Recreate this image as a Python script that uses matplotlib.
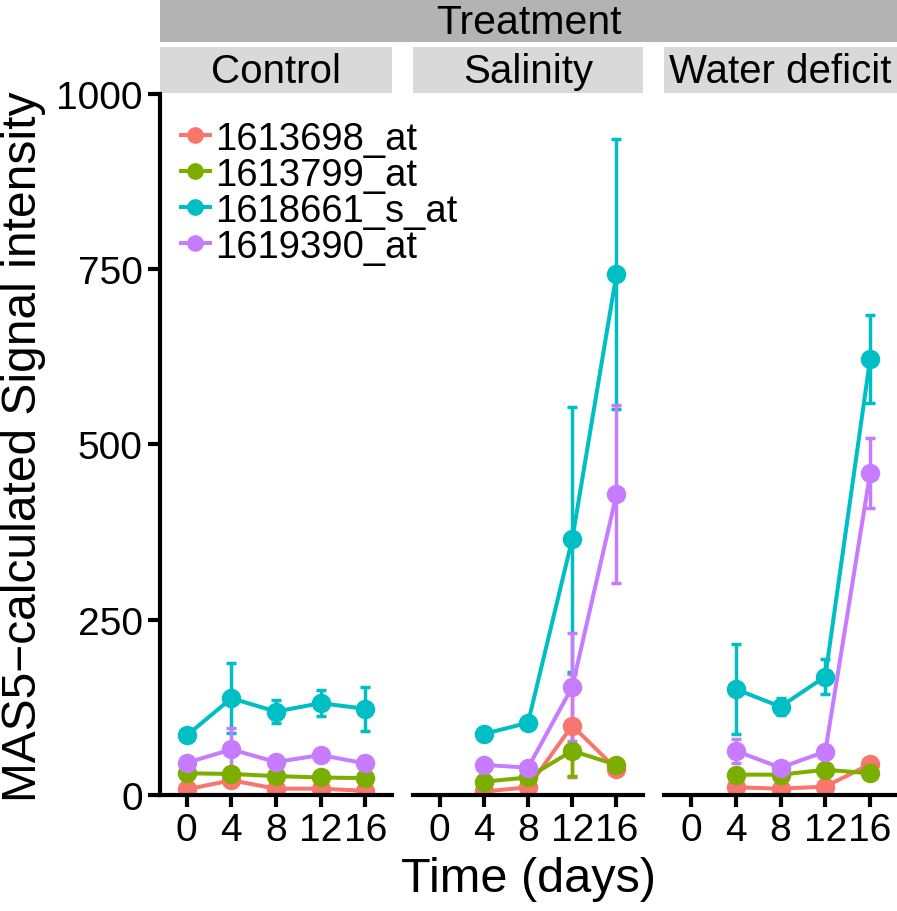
import matplotlib.pyplot as plt
import numpy as np
from matplotlib.lines import Line2D

plt.rcParams['font.family'] = ['Liberation Sans', 'DejaVu Sans']

days = ["0", "4", "8", "12", "16"]
treatments = ["Control", "Salinity", "Water deficit"]
probes = ["1613698_at", "1613799_at", "1618661_s_at", "1619390_at"]
colors = ["#F8766D", "#7CAE00", "#00BFC4", "#C77CFF"]
nan = np.nan

# mean signal, one row per probe
control_mean = [[8, 21, 9, 9, 6],
                [31, 30, 27, 25, 24],
                [85, 138, 119, 131, 123],
                [46, 65, 47, 57, 45]]
control_err = [[3, 8, 3, 3, 2],
               [3, 5, 3, 3, 3],
               [4, 50, 16, 19, 31],
               [4, 30, 5, 8, 4]]

salinity_mean = [[nan, 5, 11, 99, 37],
                 [nan, 19, 25, 63, 43],
                 [nan, 87, 103, 365, 743],
                 [nan, 43, 39, 154, 429]]
salinity_err = [[nan, 2, 3, 74, 5],
                [nan, 3, 3, 36, 5],
                [nan, 4, 5, 189, 193],
                [nan, 3, 4, 77, 127]]

water_mean = [[nan, 11, 9, 12, 44],
              [nan, 29, 29, 36, 31],
              [nan, 151, 126, 169, 622],
              [nan, 63, 39, 62, 459]]
water_err = [[nan, 2, 2, 2, 4],
             [nan, 3, 3, 3, 3],
             [nan, 64, 12, 25, 63],
             [nan, 17, 8, 4, 50]]

means = [control_mean, salinity_mean, water_mean]
errs = [control_err, salinity_err, water_err]

W, H = 897, 912
def box(x0, y0, x1, y1):
    return [x0 / W, 1 - y1 / H, (x1 - x0) / W, (y1 - y0) / H]

fig = plt.figure(figsize=(W / 100, H / 100), dpi=100)

panels = [(160, 392), (413, 643), (664, 897)]
x = np.arange(len(days))
axes = []

for i, (x0, x1) in enumerate(panels):
    ax = fig.add_axes(box(x0, 95, x1, 796))
    ax.set_facecolor('none')
    for k in range(len(probes)):
        ax.errorbar(x, means[i][k], yerr=errs[i][k], color=colors[k],
                    lw=2.9, elinewidth=2.5, capsize=3.3, capthick=2.5,
                    marker='o', ms=13)
    ax.set_xlim(-0.6, 4.6)
    ax.set_ylim(0, 1000)
    ax.set_xticks(x)
    ax.set_xticklabels(days)
    ax.set_yticks([0, 250, 500, 750, 1000])
    for s in ['top', 'right']:
        ax.spines[s].set_visible(False)
    ax.spines['bottom'].set_linewidth(3)
    ax.spines['left'].set_linewidth(3)
    ax.tick_params(labelsize=28, width=3, length=8.5, pad=4, color='black')
    if i > 0:
        ax.spines['left'].set_visible(False)
        ax.tick_params(axis='y', left=False, labelleft=False)
    axes.append(ax)

    # treatment level strip
    sax = fig.add_axes(box(x0, 48, x1, 94))
    sax.set_facecolor('#D9D9D9')
    sax.set_xticks([]); sax.set_yticks([])
    for s in sax.spines.values():
        s.set_visible(False)
    sax.text(0.5, 0.47, treatments[i], ha='center', va='center', fontsize=29,
             transform=sax.transAxes)

# legend sits on top of everything, spills into the second panel
handles = [Line2D([], [], color=c, lw=2.9, marker='o', ms=11) for c in colors]
leg = axes[0].legend(handles, probes, loc='upper left', bbox_to_anchor=(0.09, 0.962),
                     frameon=False, fontsize=27.5, handlelength=0.75, handletextpad=0.15,
                     labelspacing=0.0, borderpad=0, borderaxespad=0)
leg.set_zorder(10)
axes[0].set_zorder(5)

tax = fig.add_axes(box(160, 0, 897, 42.5))
tax.set_facecolor('#B3B3B3')
tax.set_xticks([]); tax.set_yticks([])
for s in tax.spines.values():
    s.set_visible(False)
tax.text(0.5, 0.45, "Treatment", ha='center', va='center', fontsize=29.5,
         transform=tax.transAxes)

fig.text(528.5 / W, 1 - 880 / H, "Time (days)", ha='center', va='center', fontsize=35)
fig.text(24 / W, 1 - 447 / H, "MAS5\u2212calculated Signal intensity", ha='center',
         va='center', rotation=90, fontsize=34.5)

fig.savefig("out.png", dpi=100)
